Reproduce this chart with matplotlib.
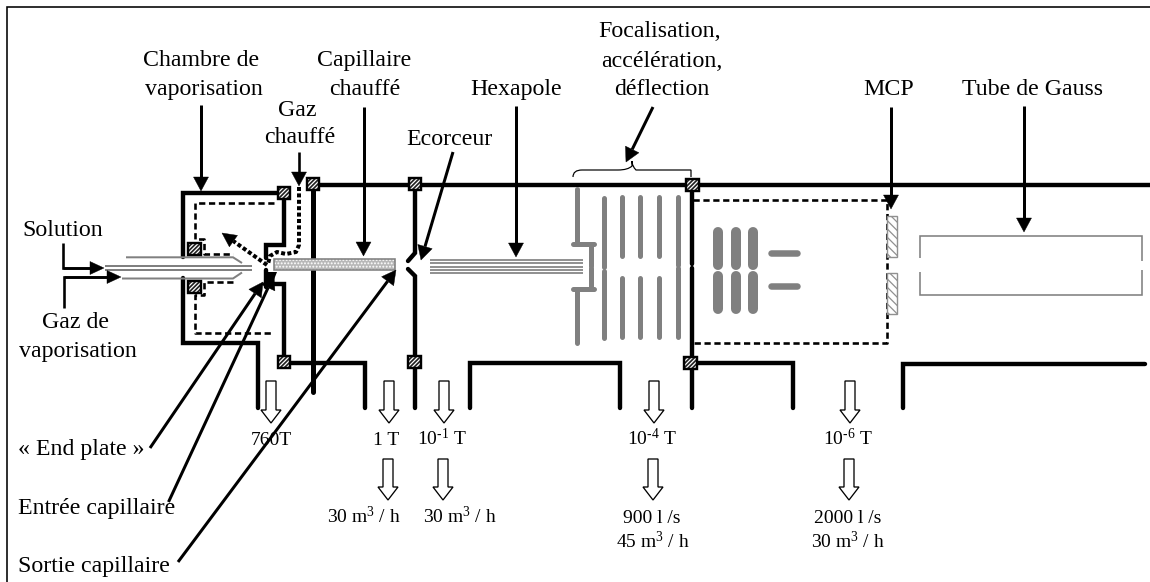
import matplotlib
matplotlib.use("Agg")
import matplotlib.pyplot as plt
from matplotlib.patches import Polygon, Rectangle, PathPatch
from matplotlib.path import Path
import numpy as np

plt.rcParams['font.family'] = ['Liberation Serif', 'DejaVu Serif']
plt.rcParams['mathtext.fontset'] = 'custom'
plt.rcParams['mathtext.rm'] = 'Liberation Serif'
plt.rcParams['mathtext.it'] = 'Liberation Serif'
plt.rcParams['mathtext.default'] = 'regular'
plt.rcParams['hatch.linewidth'] = 0.9

# ---- text content ----
component_labels = ["Chambre de", "vaporisation", "Capillaire", "chauffé", "Gaz", "chauffé",
                    "Ecorceur", "Hexapole", "Focalisation,", "accélération,", "déflection",
                    "MCP", "Tube de Gauss", "Solution", "Gaz de", "vaporisation"]
component_x = [201, 204, 364, 365, 297, 300, 449, 516, 660, 662, 662, 889, 1032, 63, 75, 78]
component_y = [66, 95, 66, 95, 116, 143, 145, 95, 37, 67, 95, 95, 95, 236, 328, 357]

left_labels = ["« End plate »", "Entrée capillaire", "Sortie capillaire"]
left_y = [455, 514, 572]

pressures = ["760T", "1 T", r"10$^{\text{-1}}$ T", r"10$^{\text{-4}}$ T", r"10$^{\text{-6}}$ T"]
pressure_x = [271, 386, 442, 652, 848]
pump_lines = ["30 m$^{3}$ / h", "30 m$^{3}$ / h", "900 l /s", "2000 l /s", "45 m$^{3}$ / h", "30 m$^{3}$ / h"]
pump_x = [364, 460, 652, 848, 653, 848]
pump_y = [523, 523, 523, 523, 548, 548]
open_arrow_upper_x = [271, 389, 444, 654, 850]
open_arrow_lower_x = [388, 443, 653, 849]

GREY = '#808080'
PX = 0.72  # points per pixel at dpi 100

fig = plt.figure(figsize=(11.5, 5.82), dpi=100)
ax = fig.add_axes([0, 0, 1, 1])
ax.set_xlim(0, 1150)
ax.set_ylim(582, 0)
ax.axis('off')


def line(pts, lw=4, c='k', z=3, ls='-', cap='round'):
    xs, ys = zip(*pts)
    l, = ax.plot(xs, ys, color=c, lw=lw * PX, zorder=z, ls=ls,
                 solid_capstyle=cap, dash_capstyle='butt', solid_joinstyle='miter')
    return l


def arrow(p0, p1, lw=3, hw=7.5, hl=14, ls='-', z=6):
    p0, p1 = np.array(p0, float), np.array(p1, float)
    d = (p1 - p0) / np.hypot(*(p1 - p0))
    n = np.array([-d[1], d[0]])
    base = p1 - d * hl
    line([p0, base], lw=lw, ls=ls, z=z, cap='butt')
    ax.add_patch(Polygon([p1, base + n * hw, base - n * hw], closed=True, fc='k', ec='k', lw=0.3, zorder=z))


def open_arrow(x, y0, y1):
    hl, sw, hw = 13, 5, 10
    ax.add_patch(Polygon([(x - sw, y0), (x + sw, y0), (x + sw, y1 - hl), (x + hw, y1 - hl), (x, y1),
                          (x - hw, y1 - hl), (x - sw, y1 - hl)], closed=True, fc='white', ec='k',
                         lw=1.3 * PX, zorder=4))


def flange(x, y):
    s = 6.2
    ax.add_patch(Rectangle((x - s, y - s), 2 * s, 2 * s, fc='#202020', ec='white', hatch='////////', lw=0, zorder=7))
    ax.add_patch(Rectangle((x - s, y - s), 2 * s, 2 * s, fc='none', ec='k', lw=2.4 * PX, zorder=8))


# page border (left and top sides only are visible)
line([(6.5, 582), (6.5, 6.5), (1150, 6.5)], lw=1.6, cap='butt')

# vacuum walls
walls = [
    [(313, 184.5), (1150, 184.5)],
    [(284, 193), (183, 193), (183, 257)],
    [(183, 278), (183, 343), (258, 343), (258, 408)],
    [(284, 193), (284, 245), (266, 245), (266, 258)],
    [(266, 270), (266, 287)],
    [(266, 284), (284, 284), (284, 362.5), (365, 362.5), (365, 408)],
    [(415, 184), (415, 253), (408, 261)],
    [(408, 269), (415, 276), (415, 408)],
    [(470, 408), (470, 363), (620, 363), (620, 408)],
    [(691.5, 185), (691.5, 264)],
    [(691.5, 268), (691.5, 408)],
    [(691, 363), (793, 363), (793, 408)],
    [(903, 408), (903, 363.5), (1145, 363.5)],
]
for w in walls:
    line(w, lw=4.4)
line([(313, 184), (313, 258)], lw=5)
line([(313, 270), (313, 392)], lw=5)
ax.add_patch(Polygon([(266, 272), (277, 272), (271, 287), (266, 287)], closed=True, fc='k', ec='k', lw=0, zorder=3))

# dashed shields
dash = (0, (2.4, 1.4))
for d in [
    [(274, 203), (195, 203), (195, 239), (204, 239), (204, 254), (233, 254)],
    [(233, 282), (204, 282), (204, 295), (195, 295), (195, 333), (273, 333)],
    [(693, 200), (887, 200), (887, 343), (693, 343)],
]:
    line(d, lw=2.6, ls=dash, z=3)

# sprayer tubes
for t in [[(126, 257.3), (233, 257.3), (242, 263)],
          [(122, 278.5), (233, 278.5), (242, 272.5)],
          [(105, 265.8), (252, 265.8)],
          [(105, 269.8), (252, 269.8)]]:
    line(t, lw=2, c=GREY, cap='butt')

# heated capillary
ax.add_patch(Rectangle((274, 259), 121, 11, fc='#b8b8b8', ec='white', hatch='.....', lw=0, zorder=5))
ax.add_patch(Rectangle((274, 259), 121, 11, fc='none', ec=GREY, lw=1.6 * PX, zorder=5))

# hexapole rods
for y in [260, 263.3, 266.7, 270, 273.3]:
    line([(430, y), (583, y)], lw=1.7, c=GREY, cap='butt')

# focusing lenses
for s in [
    [(576.7, 189), (576.7, 244)], [(573, 244), (594, 244)], [(591, 244), (591, 266)],
    [(591, 268), (591, 288.5)], [(573, 288.5), (594, 288.5)], [(576.7, 288.5), (576.7, 343)],
    [(603.7, 198), (603.7, 266.5)], [(603.7, 271), (603.7, 338)],
    [(621.7, 197), (621.7, 256)], [(621.7, 278), (621.7, 337)],
    [(640, 197), (640, 256)], [(640, 278), (640, 337)],
    [(658.7, 197), (658.7, 256)], [(658.7, 278), (658.7, 337)],
    [(678, 197), (678, 265)], [(678, 268), (678, 337)],
]:
    line(s, lw=5, c=GREY)

for x in [718, 735.7, 753]:
    line([(x, 232), (x, 265)], lw=10, c=GREY)
    line([(x, 276), (x, 309)], lw=10, c=GREY)
for y in [252.7, 285.7]:
    line([(771, y), (797, y)], lw=6.5, c=GREY)

# detector plates
for y0, y1 in [(216, 256.7), (273, 314)]:
    ax.add_patch(Rectangle((886.7, y0), 10.6, y1 - y0, fc='white', ec='#909090', hatch='\\\\\\\\', lw=1.4 * PX, zorder=5))

# flight tube
line([(920, 258), (920, 236), (1142, 236), (1142, 261)], lw=1.6, c=GREY, cap='butt')
line([(920, 271.5), (920, 295), (1142, 295), (1142, 270)], lw=1.6, c=GREY, cap='butt')

# brace
brace = Path([(573, 177), (573, 170), (582, 170), (618, 170), (628, 170), (632, 166), (632, 161),
              (632, 166), (636, 170), (646, 170), (682, 170), (691, 170), (691, 177)],
             [Path.MOVETO, Path.CURVE3, Path.CURVE3, Path.LINETO, Path.CURVE3, Path.CURVE3, Path.LINETO,
              Path.CURVE3, Path.CURVE3, Path.LINETO, Path.CURVE3, Path.CURVE3, Path.LINETO])
ax.add_patch(PathPatch(brace, fc='none', ec='k', lw=1.2 * PX, zorder=3))

# heated gas (dotted)
dots = (0, (1.0, 0.6))
line([(299, 187), (299, 245), (296, 252), (286, 254), (277, 252), (270, 256), (268, 264)], lw=4, ls=dots, z=4)
arrow((267, 265), (222, 233), lw=4, hw=7, hl=14, ls=dots)

# flanges
for x, y in [(284, 193), (313, 184), (415, 184), (194.5, 249), (194.5, 287), (284, 362),
             (414.5, 362), (692.5, 185), (690.5, 363)]:
    flange(x, y)

# labelled arrows
arrow((201, 105), (201, 191))
arrow((299, 152), (299, 186), lw=2.6)
arrow((363.5, 107), (363.5, 256))
arrow((453, 152), (421, 260))
arrow((516, 106), (516, 257))
arrow((653, 107), (626, 162))
arrow((891, 107), (891, 209))
arrow((1024, 106), (1024, 232))
arrow((150, 448), (263, 282))
arrow((168.5, 502), (274, 275))
arrow((178, 562), (396, 270))
line([(63, 243), (63, 268), (95, 268)], lw=2.6, cap='butt')
arrow((63, 268), (104, 268), lw=2.6, hw=6.5, hl=14)
line([(64, 308), (64, 277), (110, 277)], lw=2.6, cap='butt')
arrow((64, 277), (121, 277), lw=2.6, hw=6.5, hl=14)

# open pump arrows
for x in open_arrow_upper_x:
    open_arrow(x, 381, 423)
for x in open_arrow_lower_x:
    open_arrow(x, 459, 500)

# text
for s, x, y in zip(component_labels, component_x, component_y):
    ax.text(x, y, s, ha='center', va='baseline', fontsize=17.2, color='k', zorder=10)
for s, y in zip(left_labels, left_y):
    ax.text(18, y, s, ha='left', va='baseline', fontsize=17.2, color='k', zorder=10)
for s, x in zip(pressures, pressure_x):
    ax.text(x, 445, s, ha='center', va='baseline', fontsize=14, color='k', zorder=10)
for s, x, y in zip(pump_lines, pump_x, pump_y):
    ax.text(x, y, s, ha='center', va='baseline', fontsize=14, color='k', zorder=10)

fig.savefig('out.png', dpi=100, facecolor='white')
